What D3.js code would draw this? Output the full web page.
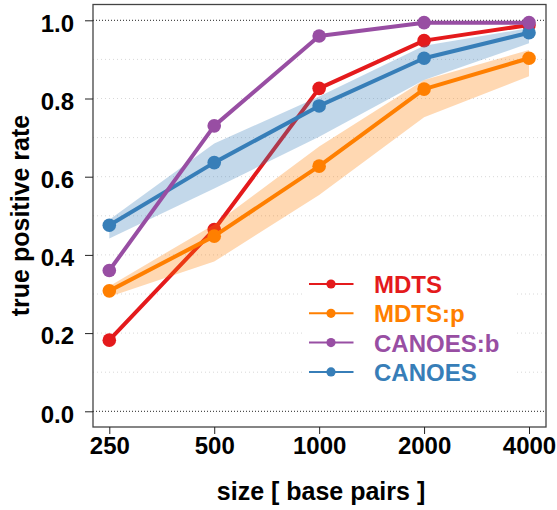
<!DOCTYPE html>
<html>
<head>
<meta charset="utf-8">
<script src="https://cdn.jsdelivr.net/npm/d3@7"></script>
<style>
  html, body { margin: 0; padding: 0; background: #fff; }
  svg { display: block; font-family: "Liberation Sans", Arial, Helvetica, sans-serif; font-weight: bold; }
</style>
</head>
<body>
<svg id="chart" width="557" height="510"></svg>
<script>
// ---- data ----
const sizes = [250, 500, 1000, 2000, 4000];
const yTicks = [0, 0.2, 0.4, 0.6, 0.8, 1.0];
const gridTicks = [0.1, 0.2, 0.3, 0.4, 0.5, 0.6, 0.7, 0.8, 0.9];

const mdts      = [0.182, 0.465, 0.826, 0.948, 0.988];
const mdtsP     = [0.308, 0.448, 0.627, 0.824, 0.903];
const mdtsPLo   = [0.293, 0.383, 0.553, 0.752, 0.857];
const mdtsPHi   = [0.320, 0.478, 0.677, 0.847, 0.924];
const canoesB   = [0.360, 0.730, 0.960, 0.994, 0.994];
const canoes    = [0.476, 0.636, 0.781, 0.903, 0.968];
const canoesLo  = [0.442, 0.570, 0.702, 0.847, 0.941];
const canoesHi  = [0.490, 0.685, 0.805, 0.935, 0.980];

const seriesNames = ["MDTS", "MDTS:p", "CANOES:b", "CANOES"];
const seriesColors = ["#E41A1C", "#FF7F00", "#984EA3", "#377EB8"];

// ---- layout ----
const svg = d3.select("#chart");
const box = { left: 93, right: 546, top: 4.5, bottom: 427 };

const x = d3.scaleLog().base(2).domain([250, 4000]).range([109.3, 529]);
const y = d3.scaleLinear().domain([0, 1]).range([411.3, 20.3]);

// grid lines
svg.append("g").selectAll("line").data(gridTicks).join("line")
  .attr("x1", box.left).attr("x2", box.right)
  .attr("y1", d => y(d)).attr("y2", d => y(d))
  .attr("stroke", "#d8d8d8").attr("stroke-width", 1)
  .attr("stroke-dasharray", "1,3");

svg.append("g").selectAll("line").data([0, 1]).join("line")
  .attr("x1", box.left).attr("x2", box.right)
  .attr("y1", d => y(d)).attr("y2", d => y(d))
  .attr("stroke", "#222").attr("stroke-width", 1)
  .attr("stroke-dasharray", "1,2");

const line = d3.line().x(d => x(d[0])).y(d => y(d[1]));
const area = d3.area().x(d => x(d[0])).y0(d => y(d[1])).y1(d => y(d[2]));

const zipS = v => sizes.map((s, i) => [s, v[i]]);
const zipB = (lo, hi) => sizes.map((s, i) => [s, lo[i], hi[i]]);

function drawBand(lo, hi, color) {
  svg.append("path").datum(zipB(lo, hi))
    .attr("d", area).attr("fill", color).attr("fill-opacity", 0.3);
}
function drawSeries(vals, color) {
  const g = svg.append("g");
  g.append("path").datum(zipS(vals))
    .attr("d", line).attr("fill", "none")
    .attr("stroke", color).attr("stroke-width", 4).attr("stroke-linejoin", "round");
  g.selectAll("circle").data(zipS(vals)).join("circle")
    .attr("cx", d => x(d[0])).attr("cy", d => y(d[1])).attr("r", 6.8)
    .attr("fill", color);
}

drawSeries(mdts, seriesColors[0]);
drawBand(mdtsPLo, mdtsPHi, seriesColors[1]);
drawSeries(mdtsP, seriesColors[1]);
drawBand(canoesLo, canoesHi, seriesColors[3]);
drawSeries(canoes, seriesColors[3]);
drawSeries(canoesB, seriesColors[2]);

// legend
const leg = svg.append("g");
leg.append("rect").attr("x", 303).attr("y", 266).attr("width", 212).attr("height", 122).attr("fill", "#fff");
const rows = leg.selectAll("g.row").data(seriesNames).join("g").attr("class", "row")
  .attr("transform", (d, i) => `translate(0,${284 + i * 29.3})`);
rows.append("line").attr("x1", 309).attr("x2", 353.5).attr("y1", 0).attr("y2", 0)
  .attr("stroke", (d, i) => seriesColors[i]).attr("stroke-width", 2);
rows.append("circle").attr("cx", 331).attr("cy", 0).attr("r", 4.6)
  .attr("fill", (d, i) => seriesColors[i]);
rows.append("text").attr("x", 374).attr("y", 9).text(d => d)
  .attr("fill", (d, i) => seriesColors[i]).attr("font-size", 24);

// box
svg.append("rect").attr("x", box.left).attr("y", box.top)
  .attr("width", box.right - box.left).attr("height", box.bottom - box.top)
  .attr("fill", "none").attr("stroke", "#444").attr("stroke-width", 1.3);

// axes
const yAxis = svg.append("g").attr("transform", `translate(${box.left},0)`)
  .call(d3.axisLeft(y).tickValues(yTicks).tickFormat(d3.format(".1f")).tickSize(8).tickPadding(11));
yAxis.select(".domain").remove();
yAxis.selectAll("text").attr("font-size", 24).attr("font-family", null).attr("dy", "0.45em").attr("fill", "#000");
yAxis.selectAll("line").attr("stroke", "#222");

const xAxis = svg.append("g").attr("transform", `translate(0,${box.bottom})`)
  .call(d3.axisBottom(x).tickValues(sizes).tickFormat(d3.format("d")).tickSize(7).tickPadding(3));
xAxis.select(".domain").remove();
xAxis.selectAll("text").attr("font-size", 24).attr("font-family", null).attr("fill", "#000");
xAxis.selectAll("line").attr("stroke", "#222");

// axis titles
svg.append("text").attr("x", 321).attr("y", 500).attr("text-anchor", "middle")
  .attr("font-size", 25).text("size [ base pairs ]");
svg.append("text").attr("transform", "translate(28.5,215.5) rotate(-90)")
  .attr("text-anchor", "middle").attr("font-size", 25).text("true positive rate");
</script>
</body>
</html>
